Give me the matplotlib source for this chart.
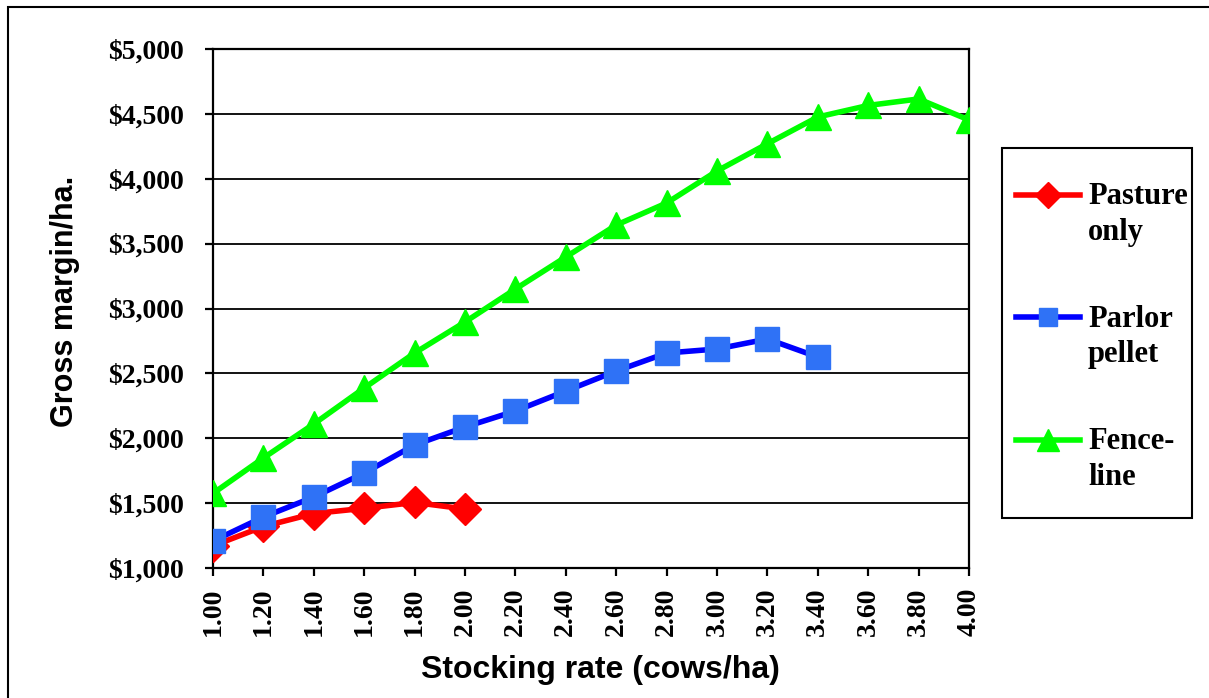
import numpy as np
import matplotlib
matplotlib.use('Agg')
import matplotlib.pyplot as plt
from matplotlib.ticker import FuncFormatter
from matplotlib.legend_handler import HandlerLine2D

# stocking rate (cows/ha)
rate = [1.0, 1.2, 1.4, 1.6, 1.8, 2.0, 2.2, 2.4, 2.6, 2.8,
        3.0, 3.2, 3.4, 3.6, 3.8, 4.0]

# gross margin per ha
pasture = [1170, 1320, 1420, 1460, 1505, 1455]
parlor = [1208, 1393, 1547, 1732, 1948, 2087, 2210, 2364, 2518, 2657,
          2688, 2765, 2626]
fence = [1575, 1848, 2110, 2387, 2657, 2896, 3150, 3397, 3643, 3813,
         4060, 4270, 4476, 4565, 4615, 4453]

labels = ['Pasture\nonly', 'Parlor\npellet', 'Fence-\nline']


class FirstLineHandler(HandlerLine2D):
    # put the legend key level with the first line of a two-line label
    def create_artists(self, legend, orig_handle, xdescent, ydescent,
                       width, height, fontsize, trans):
        return super().create_artists(legend, orig_handle, xdescent,
                                      ydescent - 1.3 * fontsize, width,
                                      height, fontsize, trans)


W, H = 1209, 698
fig = plt.figure(figsize=(W / 100, H / 100), dpi=100)
ax = fig.add_axes([213 / W, 1 - 568 / H, (969 - 213) / W, (568 - 49) / H])

l1, = ax.plot(rate[:len(pasture)], pasture, color='#FF0000', lw=4,
              marker='D', ms=16, mfc='#FF0000', mec='#FF0000', zorder=3)
l2, = ax.plot(rate[:len(parlor)], parlor, color='#0000FF', lw=4,
              marker='s', ms=17, mfc='#2F72F6', mec='#2F72F6', zorder=4)
l3, = ax.plot(rate, fence, color='#00FF00', lw=4,
              marker='^', ms=19, mfc='#00FF00', mec='#00FF00', zorder=5)

ax.set_xlim(1.0, 4.0)
ax.set_ylim(1000, 5000)
ax.set_xticks(rate)
ax.set_yticks(np.arange(1000, 5001, 500))
ax.yaxis.set_major_formatter(FuncFormatter(lambda v, p: '${:,.0f}'.format(v)))
ax.xaxis.set_major_formatter(FuncFormatter(lambda v, p: '{:.2f}'.format(v)))

ax.grid(axis='y', color='black', lw=1.3)
ax.set_axisbelow(True)
for s in ax.spines.values():
    s.set_linewidth(1.6)
ax.tick_params(axis='both', direction='out', length=6, width=1.6)
ax.tick_params(axis='y', pad=15)
ax.tick_params(axis='x', pad=8)
for t in ax.get_yticklabels() + ax.get_xticklabels():
    t.set_fontfamily('Liberation Serif')
    t.set_fontweight('bold')
    t.set_fontsize(20)
for t in ax.get_xticklabels():
    t.set_rotation(90)

ax.set_xlabel('Stocking rate (cows/ha)', fontfamily='Liberation Sans',
              fontweight='bold', fontsize=23, labelpad=14)
ax.xaxis.label.set_x(0.512)
ax.set_ylabel('Gross margin/ha.', fontfamily='Liberation Sans',
              fontweight='bold', fontsize=22, labelpad=20)
ax.yaxis.label.set_y(0.514)

leg = fig.legend([l1, l2, l3], labels, loc='upper left',
                 bbox_to_anchor=(1016 / W, 1 - 182 / H),
                 frameon=False, borderpad=0, borderaxespad=0,
                 prop={'family': 'Liberation Serif', 'weight': 'bold',
                       'size': 22},
                 handlelength=2.1, handletextpad=0.26, labelspacing=1.9,
                 markerscale=0.8,
                 handler_map={l1: FirstLineHandler(), l2: FirstLineHandler(),
                              l3: FirstLineHandler()})
for t in leg.get_texts():
    t.set_linespacing(1.3)

# legend box
fig.add_artist(plt.Rectangle((1002 / W, 1 - 518 / H), 190 / W, 370 / H,
                             fill=False, lw=1.5, ec='black',
                             transform=fig.transFigure))

# outer chart border (only left and top edges visible)
fig.add_artist(plt.Rectangle((8 / W, -1), 2, 1 + (1 - 7 / H), fill=False,
                             lw=1.5, ec='black', transform=fig.transFigure))

fig.savefig('out.png', dpi=100)
